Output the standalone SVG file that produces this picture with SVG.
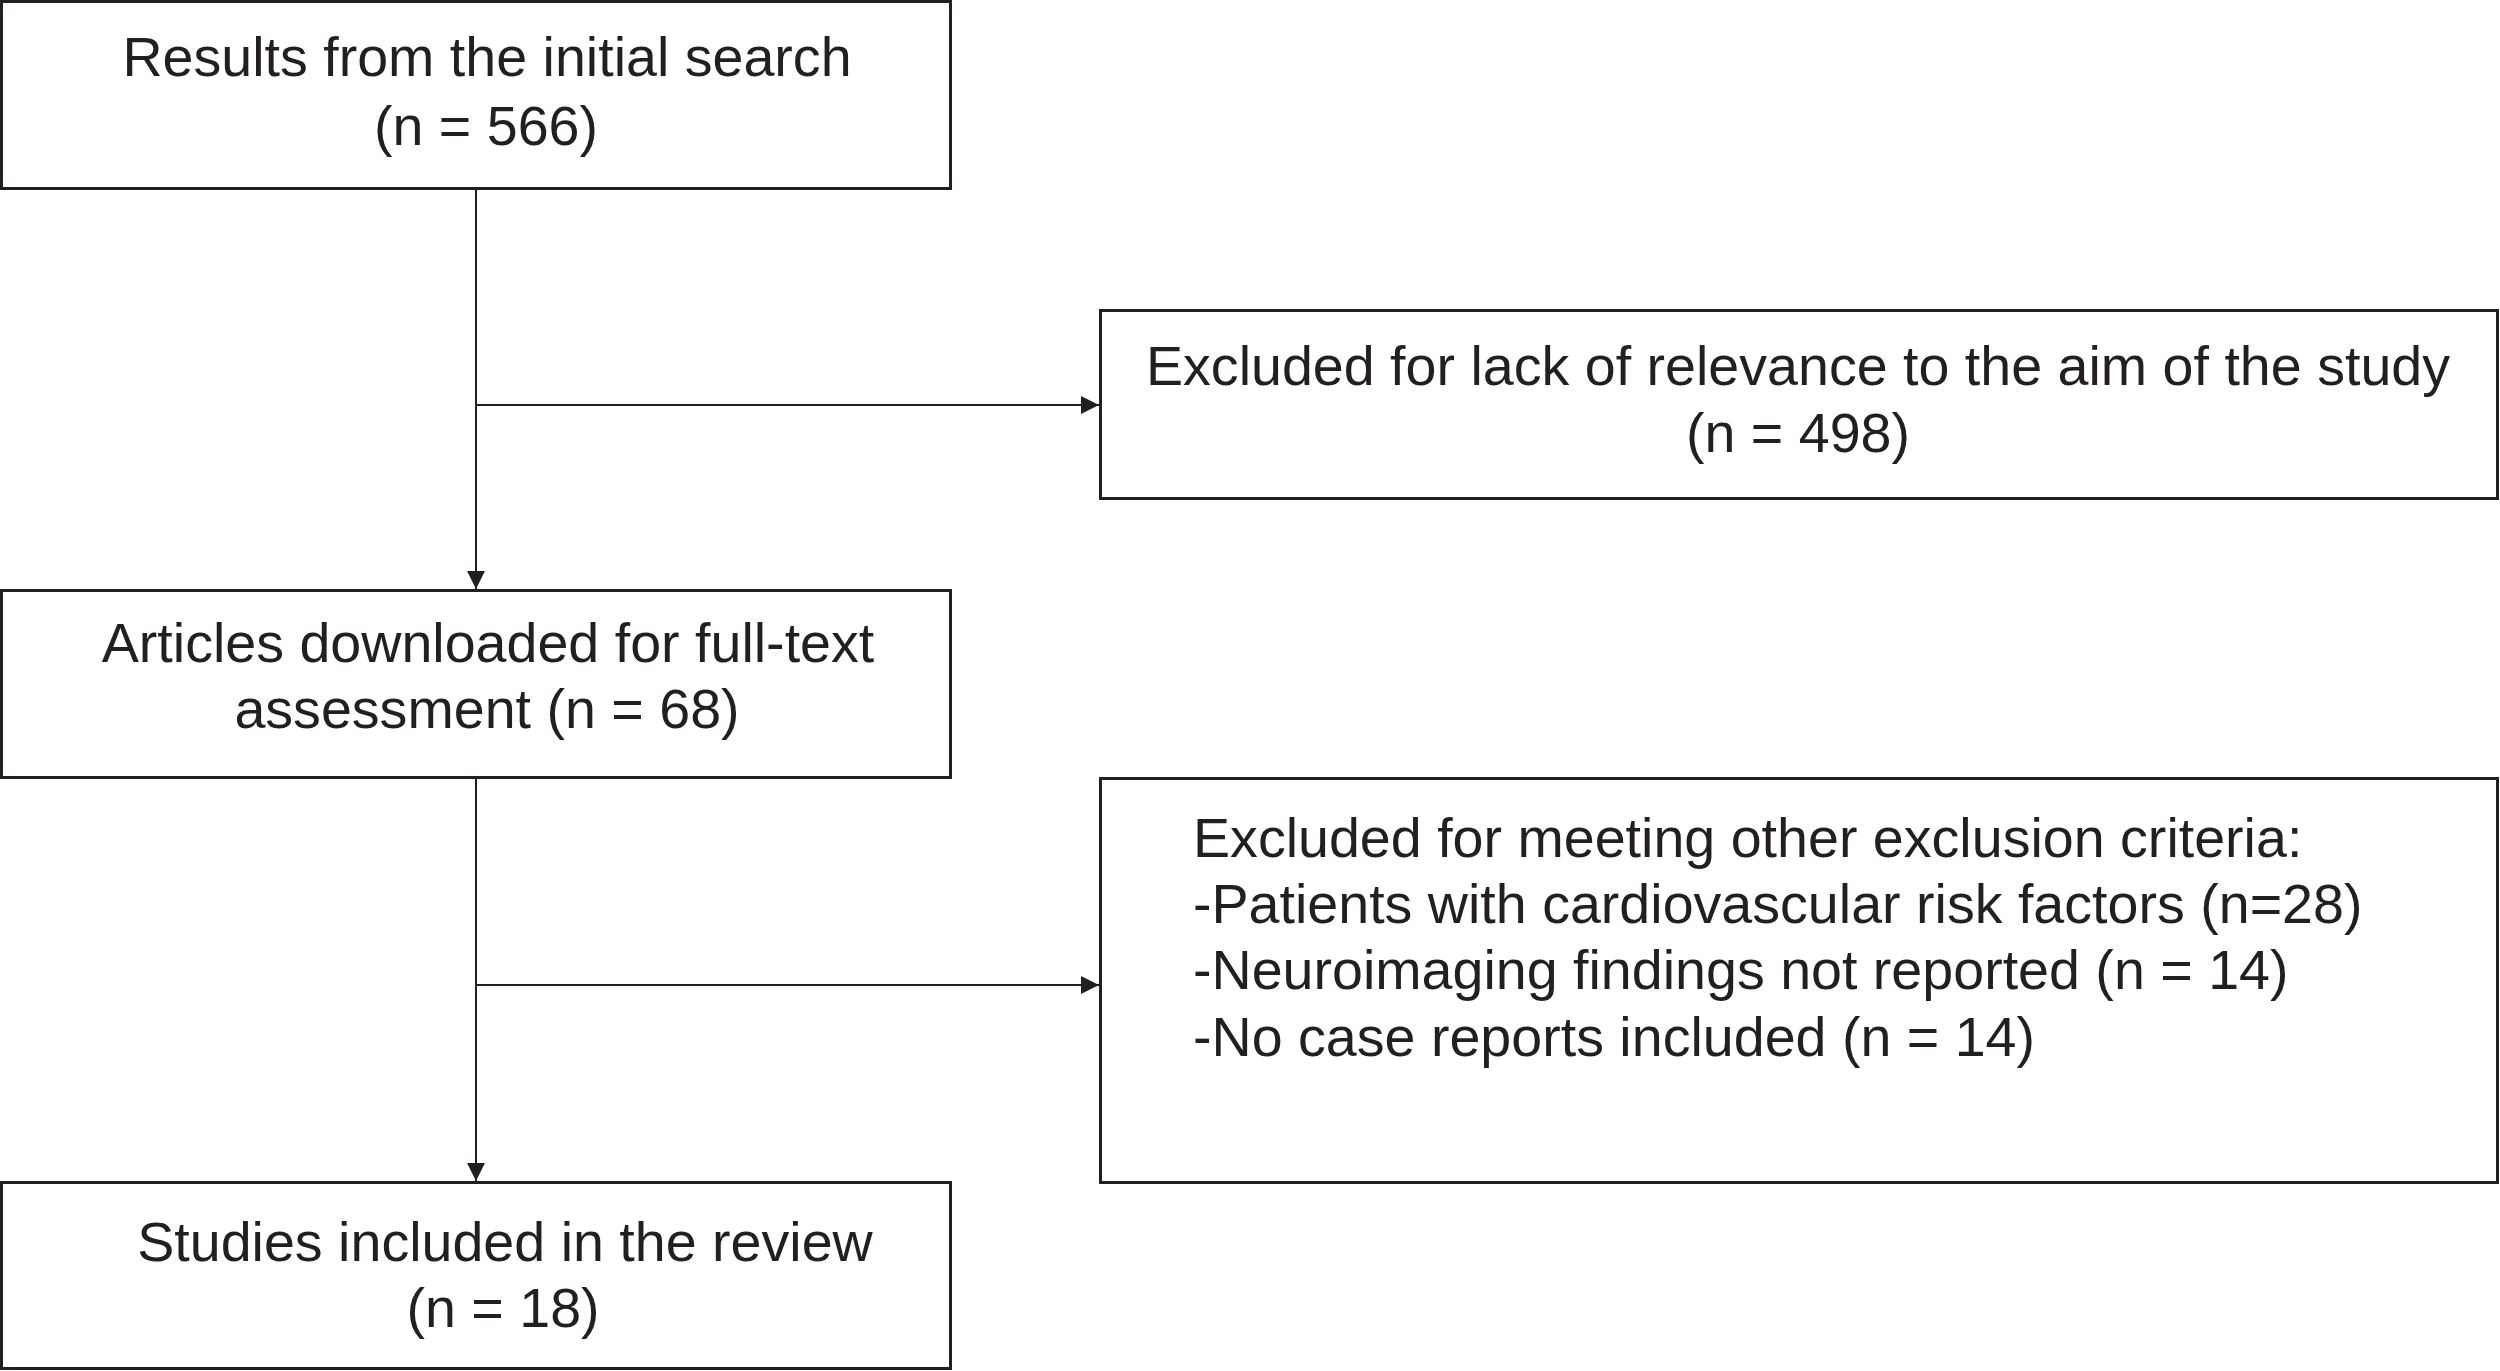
<svg xmlns="http://www.w3.org/2000/svg" width="2500" height="1371" viewBox="0 0 2500 1371">
<style>
.box{fill:#fff;stroke:#231f20;stroke-width:3}
.ln{fill:none;stroke:#231f20;stroke-width:2}
text{font-family:"Liberation Sans",Arial,sans-serif;font-size:55.6px;fill:#231f20}
.c{text-anchor:middle}
</style>
<defs>
<marker id="ah" markerWidth="18" markerHeight="18" refX="18" refY="9" orient="auto" markerUnits="userSpaceOnUse">
<path d="M0,0 L18,9 L0,18 Z" fill="#231f20"/>
</marker>
</defs>
<rect width="2500" height="1371" fill="#fff"/>
<g id="connectors">
<path class="ln" d="M476,188 V589" marker-end="url(#ah)"/>
<path class="ln" d="M476,405 H1099" marker-end="url(#ah)"/>
<path class="ln" d="M476,778 V1181" marker-end="url(#ah)"/>
<path class="ln" d="M476,985 H1099" marker-end="url(#ah)"/>
</g>
<g id="n1">
<rect class="box" x="1.5" y="1.5" width="949" height="187"/>
<text class="c" x="487" y="76">Results from the initial search</text>
<text class="c" x="486" y="145">(n = 566)</text>
</g>
<g id="n2">
<rect class="box" x="1100.5" y="310.5" width="1397" height="188"/>
<text class="c" x="1798" y="385">Excluded for lack of relevance to the aim of the study</text>
<text class="c" x="1798" y="452">(n = 498)</text>
</g>
<g id="n3">
<rect class="box" x="1.5" y="590.5" width="949" height="187"/>
<text class="c" x="488" y="662">Articles downloaded for full-text</text>
<text class="c" x="487" y="728">assessment (n = 68)</text>
</g>
<g id="n4">
<rect class="box" x="1100.5" y="778.5" width="1397" height="404"/>
<text x="1193" y="857">Excluded for meeting other exclusion criteria:</text>
<text x="1193" y="923">-Patients with cardiovascular risk factors (n=28)</text>
<text x="1193" y="989">-Neuroimaging findings not reported (n = 14)</text>
<text x="1193" y="1056">-No case reports included (n = 14)</text>
</g>
<g id="n5">
<rect class="box" x="1.5" y="1182.5" width="949" height="186"/>
<text class="c" x="505" y="1261">Studies included in the review</text>
<text class="c" x="503" y="1327">(n = 18)</text>
</g>
</svg>
